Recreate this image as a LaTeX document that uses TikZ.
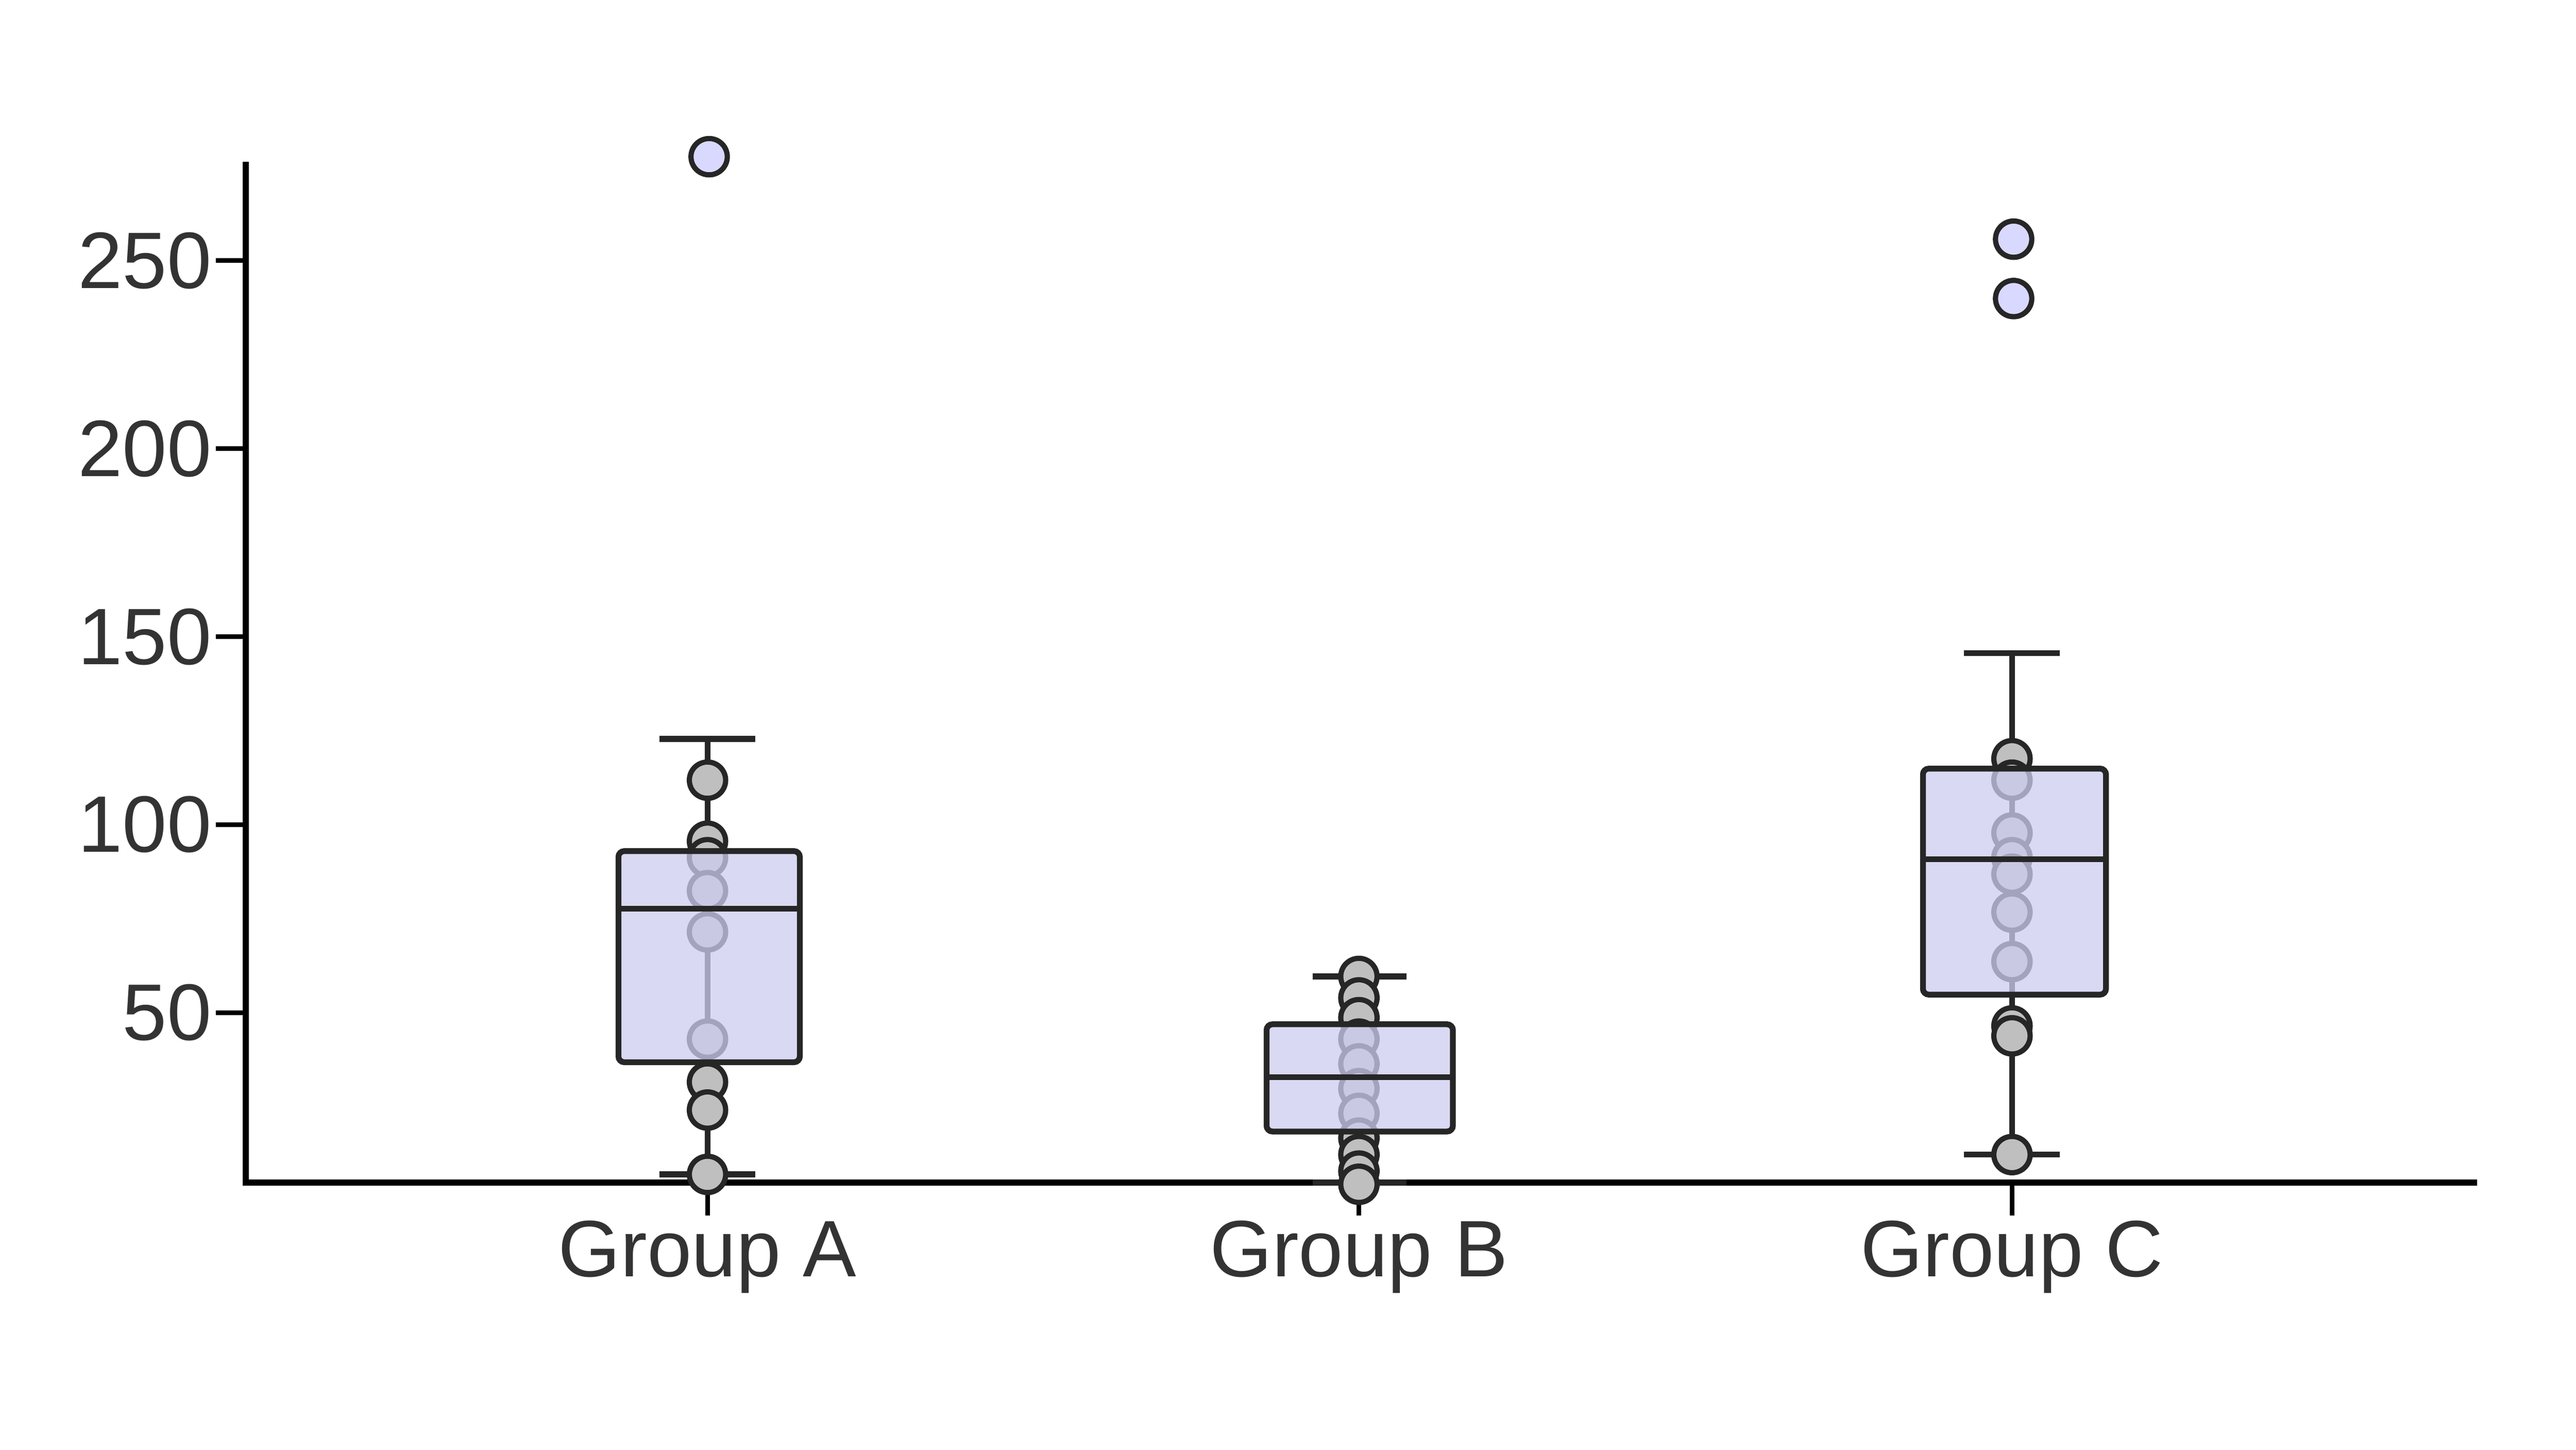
\documentclass[tikz,border=0pt]{standalone}
\usepackage{fontspec}
\setmainfont{Liberation Sans}
\begin{document}
\begin{tikzpicture}[x=0.01cm,y=-0.01cm,
  ax/.style={line width=1pt,black},
  lab/.style={font=\fontsize{13.8}{16}\selectfont,text=black!80},
  pt/.style={circle,draw=black!85,line width=0.9pt,fill=black!25,minimum size=0.22cm,inner sep=0pt},
  outlier/.style={pt,fill=blue!15!white},
  bx/.style={draw=black!85,line width=1pt,fill={rgb,255:red,205;green,205;blue,240},fill opacity=0.75,rounded corners=1pt},
  wh/.style={line width=1pt,black!85}]
\useasboundingbox (0,0) rectangle (1562,879);
\fill[white] (0,0) rectangle (1562,879);
% axes
\draw[ax] (149,98) -- (149,717) -- (1502,717);
\foreach \v/\y in {250/158,200/272,150/386,100/500,50/614}{
  \draw[ax,line width=0.8pt] (131,\y) -- (149,\y);
  \node[lab,anchor=east,inner sep=0pt] (t\v) at (129,\y) {\v};
}
\foreach \x/\n in {429/A,824/B,1220/C}{
  \draw[ax,line width=0.8pt] (\x,717) -- (\x,737);
  \node[lab,anchor=base] (g\n) at (\x,774) {Group \n};
}
% Group A
\draw[wh] (429,448) -- (429,712); \draw[wh] (400,448) -- (458,448); \draw[wh] (400,712) -- (458,712);
\foreach \y in {473,510,520,540,565,630,656,673,712} \node[pt] at (429,\y) {};
\draw[bx] (375,516) rectangle (485,644);
\draw[wh] (375,551) -- (485,551);
\node[outlier] (oA) at (430,95) {};
% Group B
\draw[wh] (824,592) -- (824,717); \draw[wh] (796,592) -- (853,592); \draw[wh] (796,717) -- (853,717);
\foreach \y in {592,605,617,630,645,660,675,690,700,710,718} \node[pt] at (824,\y) {};
\draw[bx] (768,621) rectangle (881,686);
\draw[wh] (768,653) -- (881,653);
% Group C
\draw[wh] (1220,396) -- (1220,700); \draw[wh] (1191,396) -- (1249,396); \draw[wh] (1191,700) -- (1249,700);
\foreach \y in {460,473,505,520,530,553,583,622,628,700} \node[pt] at (1220,\y) {};
\draw[bx] (1166,466) rectangle (1277,603);
\draw[wh] (1166,521) -- (1277,521);
\node[outlier] (oC1) at (1221,145) {};
\node[outlier] (oC2) at (1221,181) {};
\end{tikzpicture}
\end{document}
